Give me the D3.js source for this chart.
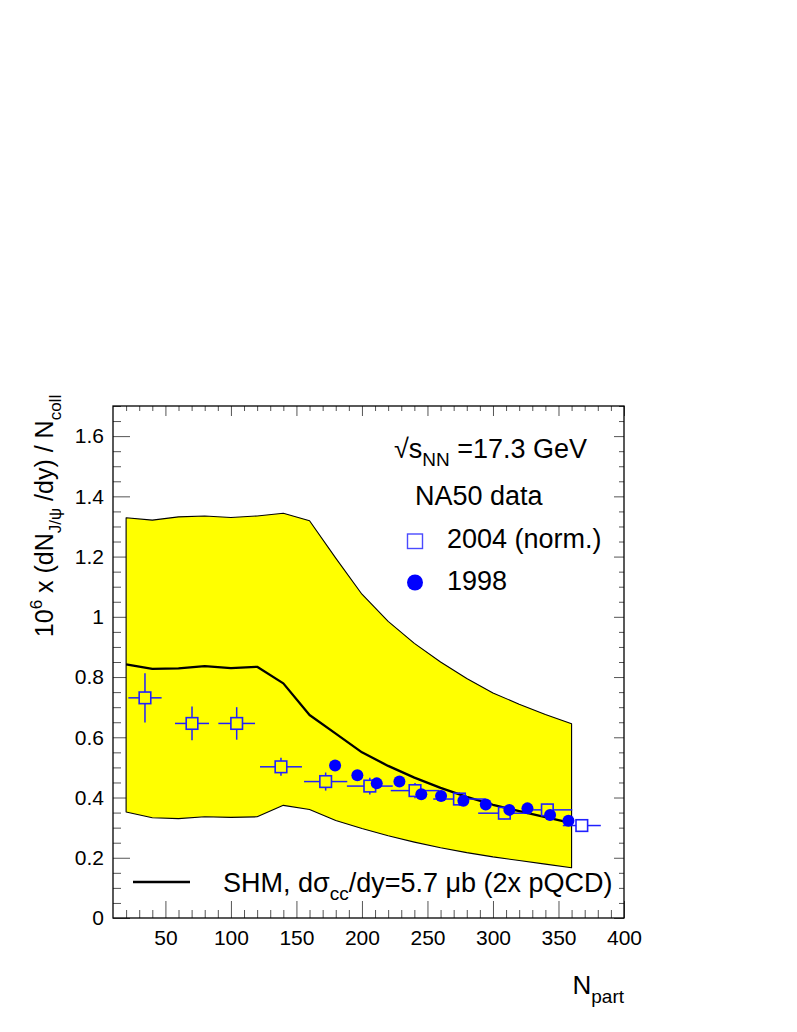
<!DOCTYPE html>
<html>
<head>
<meta charset="utf-8">
<script src="https://cdn.jsdelivr.net/npm/d3@7"></script>
<style>
  html, body { margin: 0; padding: 0; background: #fff; }
  svg { display: block; }
  text { font-family: "Liberation Sans", Arial, Helvetica, sans-serif; fill: #000; }
</style>
</head>
<body>
<svg id="chart" width="797" height="1032"></svg>
<script>
// ---- data ----
const bandN      = [20, 40, 60, 80, 100, 120, 140, 160, 180, 200, 220, 240, 260, 280, 300, 320, 340, 360];
const bandUpper  = [1.329, 1.321, 1.332, 1.335, 1.330, 1.335, 1.344, 1.319, 1.195, 1.075, 0.985, 0.912, 0.850, 0.795, 0.747, 0.710, 0.676, 0.645];
const shmCentral = [0.842, 0.827, 0.829, 0.836, 0.830, 0.834, 0.779, 0.674, 0.612, 0.550, 0.505, 0.466, 0.432, 0.402, 0.376, 0.355, 0.335, 0.315];
const bandLower  = [0.352, 0.333, 0.330, 0.336, 0.334, 0.336, 0.374, 0.360, 0.324, 0.297, 0.273, 0.252, 0.233, 0.217, 0.203, 0.191, 0.179, 0.167];

const npart2004  = [34.4, 70.3, 104.4, 138.2, 172.3, 206, 240.5, 274.4, 308.7, 341.5, 367.8];
const val2004    = [0.731, 0.646, 0.646, 0.502, 0.453, 0.438, 0.423, 0.395, 0.348, 0.359, 0.307];
const errY2004   = [0.082, 0.056, 0.054, 0.030, 0.030, 0.028, 0.025, 0.022, 0.020, 0.020, 0.020];
const errX2004   = [12.7, 13, 14, 16, 16.5, 17.5, 18.5, 20, 20, 19, 14.5];

const npart1998  = [179.5, 196.5, 211.3, 228.6, 245.3, 260.4, 277.4, 294.5, 312.5, 326.3, 343.6, 357.6];
const val1998    = [0.506, 0.474, 0.447, 0.453, 0.411, 0.405, 0.389, 0.377, 0.359, 0.364, 0.342, 0.323];

const xMajor = [50, 100, 150, 200, 250, 300, 350, 400];
const yMajor = [0, 0.2, 0.4, 0.6, 0.8, 1, 1.2, 1.4, 1.6];

// ---- layout ----
const svg = d3.select("#chart");
const L = 113, R = 624, T = 406, B = 918;
const x = d3.scaleLinear().domain([10, 400]).range([L, R]);
const y = d3.scaleLinear().domain([0, 1.7]).range([B, T]);

const xMinor = d3.range(20, 401, 10).filter(v => xMajor.indexOf(v) < 0);
const yMinor = d3.range(0.05, 1.7001, 0.05).map(v => +v.toFixed(2)).filter(v => !yMajor.some(m => Math.abs(m - v) < 1e-6));

const tickColor = "#555";
function styleAxis(g) {
  g.select(".domain").remove();
  g.selectAll(".tick line").attr("stroke", tickColor).attr("stroke-width", 1);
}

// bottom axis
svg.append("g").attr("transform", `translate(0,${B})`)
  .call(d3.axisBottom(x).tickValues(xMinor).tickSizeInner(-8).tickSizeOuter(0).tickFormat(""))
  .call(styleAxis);
svg.append("g").attr("transform", `translate(0,${B})`)
  .call(d3.axisBottom(x).tickValues(xMajor).tickSizeInner(-17).tickSizeOuter(0).tickPadding(12).tickFormat(d3.format("d")))
  .call(styleAxis)
  .call(g => g.selectAll("text").style("font-size", "21px").attr("font-family", "Liberation Sans, Arial, sans-serif"));
// top axis
svg.append("g").attr("transform", `translate(0,${T})`)
  .call(d3.axisTop(x).tickValues(xMinor).tickSizeInner(-5).tickSizeOuter(0).tickFormat(""))
  .call(styleAxis);
svg.append("g").attr("transform", `translate(0,${T})`)
  .call(d3.axisTop(x).tickValues(xMajor).tickSizeInner(-10).tickSizeOuter(0).tickFormat(""))
  .call(styleAxis);
// left axis
svg.append("g").attr("transform", `translate(${L},0)`)
  .call(d3.axisLeft(y).tickValues(yMinor).tickSizeInner(-8).tickSizeOuter(0).tickFormat(""))
  .call(styleAxis);
svg.append("g").attr("transform", `translate(${L},0)`)
  .call(d3.axisLeft(y).tickValues(yMajor).tickSizeInner(-17).tickSizeOuter(0).tickPadding(9).tickFormat(d => String(+d.toFixed(1))))
  .call(styleAxis)
  .call(g => g.selectAll("text").style("font-size", "21px"));
// right axis
svg.append("g").attr("transform", `translate(${R},0)`)
  .call(d3.axisRight(y).tickValues(yMinor).tickSizeInner(-5).tickSizeOuter(0).tickFormat(""))
  .call(styleAxis);
svg.append("g").attr("transform", `translate(${R},0)`)
  .call(d3.axisRight(y).tickValues(yMajor).tickSizeInner(-10).tickSizeOuter(0).tickFormat(""))
  .call(styleAxis);

// ---- band ----
const bandData = bandN.map((n, i) => ({ n, lo: bandLower[i], hi: bandUpper[i], c: shmCentral[i] }));
const area = d3.area().x(d => x(d.n)).y0(d => y(d.lo)).y1(d => y(d.hi));
svg.append("path").attr("d", area(bandData) + "Z")
  .attr("fill", "#ffff00").attr("stroke", "#000").attr("stroke-width", 1.1).attr("stroke-linejoin", "round");

// central line
const line = d3.line().x(d => x(d.n)).y(d => y(d.c));
svg.append("path").attr("d", line(bandData))
  .attr("fill", "none").attr("stroke", "#000").attr("stroke-width", 2.3).attr("stroke-linejoin", "round");

// ---- 2004 data (open squares with error bars) ----
const blue = "#2020ff";
const half = 5.8;
const d2004 = npart2004.map((n, i) => ({ n, v: val2004[i], ey: errY2004[i], ex: errX2004[i] }));
const g04 = svg.append("g");
d2004.forEach(d => {
  const cx = x(d.n), cy = y(d.v);
  const segs = [];
  const xl = x(d.n - d.ex), xr = x(d.n + d.ex);
  const yt = y(d.v + d.ey), yb = y(d.v - d.ey);
  if (cx - half > xl) segs.push([xl, cy, cx - half, cy]);
  if (xr > cx + half) segs.push([cx + half, cy, xr, cy]);
  if (cy - half > yt) segs.push([cx, yt, cx, cy - half]);
  if (yb > cy + half) segs.push([cx, cy + half, cx, yb]);
  segs.forEach(s => g04.append("line").attr("x1", s[0]).attr("y1", s[1]).attr("x2", s[2]).attr("y2", s[3])
    .attr("stroke", blue).attr("stroke-width", 1.5));
  g04.append("rect").attr("x", cx - half).attr("y", cy - half).attr("width", 2 * half).attr("height", 2 * half)
    .attr("fill", "none").attr("stroke", blue).attr("stroke-width", 1.6);
});

// ---- 1998 data (filled circles) ----
svg.append("g").selectAll("circle").data(npart1998.map((n, i) => ({ n, v: val1998[i] })))
  .join("circle").attr("cx", d => x(d.n)).attr("cy", d => y(d.v)).attr("r", 6)
  .attr("fill", "#0000ff");

// ---- frame ----
svg.append("rect").attr("x", L).attr("y", T).attr("width", R - L).attr("height", B - T)
  .attr("fill", "none").attr("stroke", "#000").attr("stroke-width", 1.3);

// ---- legend / labels ----
const t1 = svg.append("text").attr("x", 394).attr("y", 458).style("font-size", "27px");
t1.append("tspan").text("\u221As");
t1.append("tspan").attr("dy", 8).style("font-size", "19px").text("NN");
t1.append("tspan").attr("dy", -8).text(" =17.3 GeV");

svg.append("text").attr("x", 415).attr("y", 505).style("font-size", "27px").text("NA50 data");

svg.append("rect").attr("x", 407.5).attr("y", 534).attr("width", 15).attr("height", 14.5)
  .attr("fill", "none").attr("stroke", "#4a4aff").attr("stroke-width", 1.4);
svg.append("text").attr("x", 447).attr("y", 548).style("font-size", "27px").text("2004 (norm.)");

svg.append("circle").attr("cx", 415).attr("cy", 582.5).attr("r", 8).attr("fill", "#0000ff");
svg.append("text").attr("x", 447).attr("y", 590).style("font-size", "27px").text("1998");

svg.append("line").attr("x1", 133).attr("x2", 190).attr("y1", 882).attr("y2", 882)
  .attr("stroke", "#000").attr("stroke-width", 2.3);
const t2 = svg.append("text").attr("x", 223).attr("y", 892).style("font-size", "27px");
t2.append("tspan").text("SHM, d\u03C3");
t2.append("tspan").attr("dy", 8).style("font-size", "19px").text("cc");
t2.append("tspan").attr("dy", -8).text("/dy=5.7 \u03BCb (2x pQCD)");

// x title
const xt = svg.append("text").attr("x", 624).attr("y", 994).attr("text-anchor", "end").style("font-size", "26px");
xt.append("tspan").text("N");
xt.append("tspan").attr("dy", 9).style("font-size", "19px").text("part");

// y title
const ytl = svg.append("text").attr("transform", "translate(53,516) rotate(-90)")
  .attr("text-anchor", "middle").style("font-size", "25px");
ytl.append("tspan").text("10");
ytl.append("tspan").attr("dy", -11).style("font-size", "17px").text("6");
ytl.append("tspan").attr("dy", 11).text(" x (dN");
ytl.append("tspan").attr("dy", 8).style("font-size", "17px").text("J/\u03C8");
ytl.append("tspan").attr("dy", -8).text(" /dy) / N");
ytl.append("tspan").attr("dy", 8).style("font-size", "17px").text("coll");
</script>
</body>
</html>
